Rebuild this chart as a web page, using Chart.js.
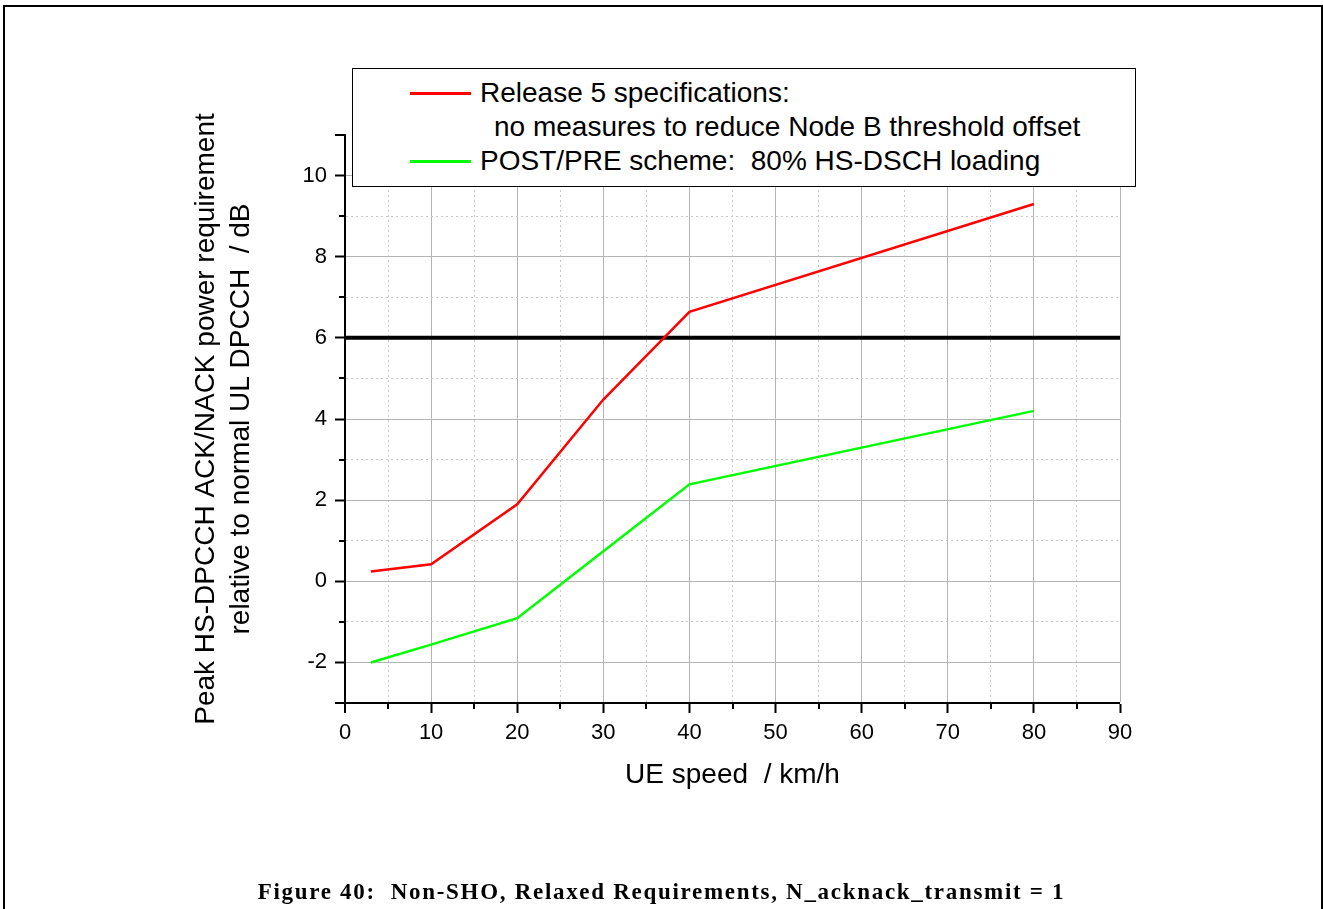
<!DOCTYPE html>
<html>
<head>
<meta charset="utf-8">
<script src="https://cdn.jsdelivr.net/npm/chart.js@4/dist/chart.umd.min.js"></script>
<style>
  html, body { margin: 0; padding: 0; background: #fff; }
  #page { position: relative; width: 1323px; height: 909px; overflow: hidden; }
  #frame { position: absolute; left: 3px; top: 5px; width: 1316px; height: 960px; border: 2px solid #000; border-bottom: none; }
  #wrap { position: absolute; left: 0; top: 0; width: 1323px; height: 909px; }
  #legend { position: absolute; left: 352px; top: 68px; width: 782px; height: 117px; border: 1px solid #000; background: #fff;
    font-family: "Liberation Sans", Arial, sans-serif; font-size: 28px; line-height: 32px; color: #000; }
  #legend .row { position: absolute; left: 0; white-space: pre; }
  #legend .sw { position: absolute; left: 57px; width: 61px; height: 3px; }
  #caption { position: absolute; left: 0; width: 1323px; top: 879px; text-align: center;
    font-family: "Liberation Serif", "Times New Roman", serif; font-weight: bold; font-size: 23px; letter-spacing: 1.7px; white-space: pre; }
</style>
</head>
<body>
<div id="page">
  <div id="frame"></div>
  <div id="wrap"><canvas id="myChart"></canvas></div>
  <div id="legend">
    <div class="sw" style="top:23px;background:#ff0000"></div>
    <div class="row" style="left:127px;top:8px">Release 5 specifications:</div>
    <div class="row" style="left:141px;top:42px">no measures to reduce Node B threshold offset</div>
    <div class="sw" style="top:91px;background:#00ff00"></div>
    <div class="row" style="left:127px;top:76px">POST/PRE scheme:  80% HS-DSCH loading</div>
  </div>
  <div id="caption">Figure 40:  Non-SHO, Relaxed Requirements, N_acknack_transmit = 1</div>
</div>
<script>
  // data
  var speeds = [3, 10, 20, 30, 40, 80];
  var release5 = [0.24, 0.42, 1.9, 4.48, 6.64, 9.3];
  var postPre = [-2, -1.56, -0.91, 0.74, 2.39, 4.2];
  var thresholdX = [0, 90];
  var thresholdY = [6, 6];
  var xTickLabels = [0, 10, 20, 30, 40, 50, 60, 70, 80, 90];
  var yTickLabels = [-2, 0, 2, 4, 6, 8, 10];

  function toPoints(xs, ys) {
    return xs.map(function(x, i) { return { x: x, y: ys[i] }; });
  }

  function isMajor(scale, v) {
    if (scale === 'x') return xTickLabels.indexOf(v) >= 0;
    return yTickLabels.indexOf(v) >= 0 || v === -3 || v === 11;
  }

  //----------------------------------------minor ticks--------------------------------------//
  var minorTicks = {
    id: 'minorTicks',
    afterDraw: function(chart) {
      var ctx = chart.ctx;
      var xs = chart.scales.x, ys = chart.scales.y;
      ctx.save();
      ctx.strokeStyle = '#000';
      ctx.lineWidth = 2;
      ctx.beginPath();
      for (var v = 5; v < 90; v += 10) {
        var px = Math.round(xs.getPixelForValue(v));
        ctx.moveTo(px, ys.bottom);
        ctx.lineTo(px, ys.bottom + 6);
      }
      for (var w = -3; w <= 11; w++) {
        if (isMajor('y', w)) continue;
        var py = Math.round(ys.getPixelForValue(w));
        ctx.moveTo(xs.left, py);
        ctx.lineTo(xs.left - 6, py);
      }
      ctx.stroke();
      ctx.restore();
    }
  };

  var myChart = new Chart(document.getElementById('myChart'), {
    type: 'line',
    data: {
      datasets: [{
          label: 'Release 5 specifications: no measures to reduce Node B threshold offset',
          data: toPoints(speeds, release5),
          borderColor: '#ff0000',
          borderWidth: 2.5,
          pointRadius: 0,
          tension: 0
        },
        {
          label: 'POST/PRE scheme:  80% HS-DSCH loading',
          data: toPoints(speeds, postPre),
          borderColor: '#00ff00',
          borderWidth: 2.5,
          pointRadius: 0,
          tension: 0
        },
        {
          label: 'threshold',
          data: toPoints(thresholdX, thresholdY),
          borderColor: '#000000',
          borderWidth: 4,
          pointRadius: 0,
          tension: 0
        }
      ]
    },
    options: {
      responsive: true,
      maintainAspectRatio: false,
      animation: false,
      layout: { padding: { left: 0, top: 135, right: 203, bottom: 0 } },
      plugins: { legend: { display: false }, tooltip: { enabled: false } },
      scales: {
        x: {
          type: 'linear',
          min: 0,
          max: 90,
          afterFit: function(scale) { scale.height = 206; },
          afterBuildTicks: function(scale) {
            var t = [];
            for (var v = 0; v <= 90; v += 5) t.push({ value: v });
            scale.ticks = t;
          },
          ticks: {
            autoSkip: false,
            maxRotation: 0,
            padding: 7,
            color: '#000',
            font: { family: '"Liberation Sans", Arial, sans-serif', size: 22 },
            callback: function(v) { return isMajor('x', v) ? String(v) : ''; }
          },
          grid: {
            color: function(c) { return isMajor('x', c.tick && c.tick.value) ? '#b4b4b4' : '#c8c8c8'; },
            lineWidth: function(c) { return (c.tick && c.tick.value === 0) ? 0 : 1; },
            tickLength: 10,
            tickWidth: 2,
            tickColor: function(c) { return isMajor('x', c.tick && c.tick.value) ? '#000' : 'rgba(0,0,0,0)'; }
          },
          border: {
            color: '#000',
            width: 2,
            dash: function(c) { return (c.tick && !isMajor('x', c.tick.value)) ? [2, 3] : []; }
          },
          title: {
            display: true,
            text: 'UE speed  / km/h',
            color: '#000',
            font: { family: '"Liberation Sans", Arial, sans-serif', size: 28 },
            padding: { top: 0, bottom: 117 }
          }
        },
        y: {
          type: 'linear',
          min: -3,
          max: 11,
          afterFit: function(scale) { scale.width = 345; },
          afterBuildTicks: function(scale) {
            var t = [];
            for (var v = -3; v <= 11; v++) t.push({ value: v });
            scale.ticks = t;
          },
          ticks: {
            autoSkip: false,
            padding: 8,
            color: '#000',
            font: { family: '"Liberation Sans", Arial, sans-serif', size: 22 },
            callback: function(v) { return yTickLabels.indexOf(v) >= 0 ? String(v) : ''; }
          },
          grid: {
            color: function(c) { return isMajor('y', c.tick && c.tick.value) ? '#b4b4b4' : '#c8c8c8'; },
            lineWidth: function(c) { return (c.tick && (c.tick.value === -3 || c.tick.value === 11)) ? 0 : 1; },
            tickLength: 10,
            tickWidth: 2,
            tickColor: function(c) { return isMajor('y', c.tick && c.tick.value) ? '#000' : 'rgba(0,0,0,0)'; }
          },
          border: {
            color: '#000',
            width: 2,
            dash: function(c) { return (c.tick && !isMajor('y', c.tick.value)) ? [2, 3] : []; }
          },
          title: {
            display: true,
            text: ['Peak HS-DPCCH ACK/NACK power requirement', 'relative to normal UL DPCCH  / dB'],
            color: '#000',
            font: { family: '"Liberation Sans", Arial, sans-serif', size: 28, lineHeight: 1.25 },
            padding: { top: 189, bottom: 0 }
          }
        }
      }
    },
    plugins: [minorTicks]
  });
</script>
</body>
</html>
